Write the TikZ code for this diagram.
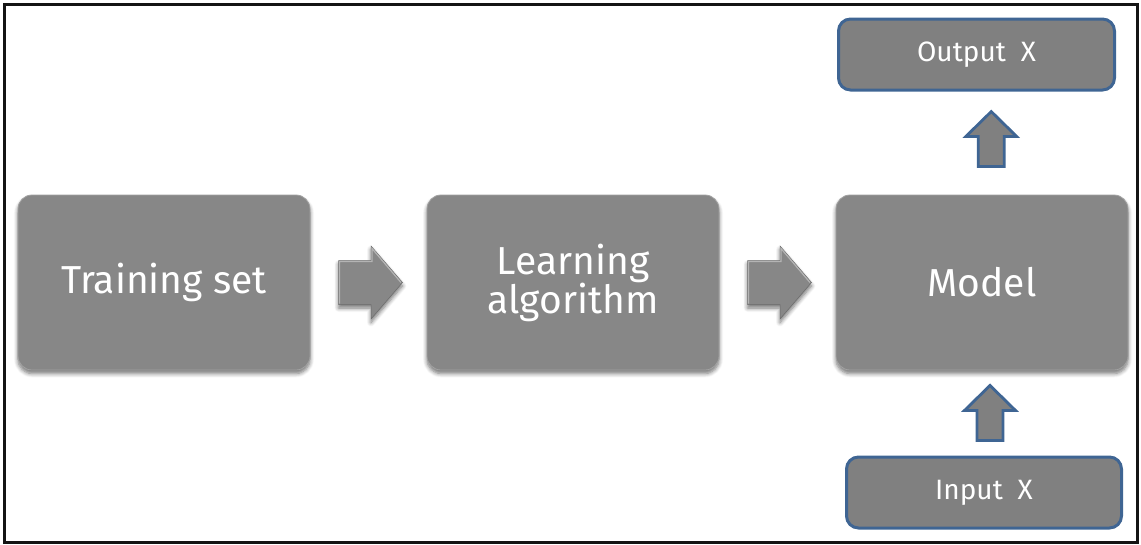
\documentclass[tikz,border=0pt]{standalone}
\usepackage{fontspec}
\setmainfont{Fira Sans}
\usetikzlibrary{calc,shadows.blur}

\definecolor{boxgray}{HTML}{878787}
\definecolor{boxedge}{HTML}{A2A2A2}
\definecolor{bevel}{HTML}{B4B4B4}
\definecolor{ioblue}{HTML}{3F6593}
\definecolor{iogray}{HTML}{808080}

\tikzset{
  softshadow/.style={blur shadow={shadow xshift=0pt, shadow yshift=-3.5pt,
      shadow opacity=55, shadow blur radius=4pt, shadow blur steps=6}},
  mainbox/.style={rounded corners=14pt, fill=boxgray, draw=boxedge,
      line width=0.8pt, minimum width=292pt, minimum height=175pt,
      text=white, align=center, font=\fontsize{39}{39}\selectfont,
      softshadow},
  iobox/.style={rounded corners=12pt, fill=iogray, draw=ioblue,
      line width=3pt, minimum height=71pt, text=white,
      font=\fontsize{28}{30}\selectfont},
  frame/.style={draw=black!92, line width=3pt},
  % block arrow pointing right, with a light bevel on its upper edges
  rarrow/.pic={
    \path[fill=boxgray, draw=boxgray!80!black, line width=0.5pt, softshadow]
      (-31.5,-22) -- (1,-22) -- (1,-36.5) -- (32.5,0) -- (1,36.5)
      -- (1,22) -- (-31.5,22) -- cycle;
    \draw[bevel, line width=1.2pt]
      (-30.5,21) -- (-30.5,-21) -- (2,-21) -- (2,-34) -- (31,0);
  },
  % block arrow pointing up, blue outline
  uarrow/.pic={
    \path[fill=iogray, draw=ioblue, line width=2.8pt, line join=miter]
      (0,-27.5) -- (25.5,-2.5) -- (13,-2.5) -- (13,27.5) -- (-13,27.5)
      -- (-13,-2.5) -- (-25.5,-2.5) -- cycle;
  },
}

\begin{document}
\begin{tikzpicture}[x=1pt, y=-1pt]
  \useasboundingbox (0,0) rectangle (1141,544);
  \draw[frame] (4,4) rectangle (1137,542);

  \node[mainbox] (train) at (164,282.5) {Training set};
  \node[mainbox] (learn) at (573,282.5) {Learning\\algorithm};
  \node[mainbox] (model) at (982,282.5) {Model};

  \node[iobox, minimum width=276pt] (out) at (976.5,54.5) {Output\ \ X};
  \node[iobox, minimum width=275pt] (in)  at (984,492.5) {Input\ \ X};

  % flow between the main stages
  \pic at ($(train.east)!0.5!(learn.west)+(1.5,0)$) {rarrow};
  \pic at ($(learn.east)!0.5!(model.west)+(1.5,0)$) {rarrow};

  % input into the model, model to the output
  \pic at ($(in.north)!0.5!(model.south)+(7,0)$) {uarrow};
  \pic at ($(model.north)!0.5!(out.south)+(12,-4)$) {uarrow};
\end{tikzpicture}
\end{document}
